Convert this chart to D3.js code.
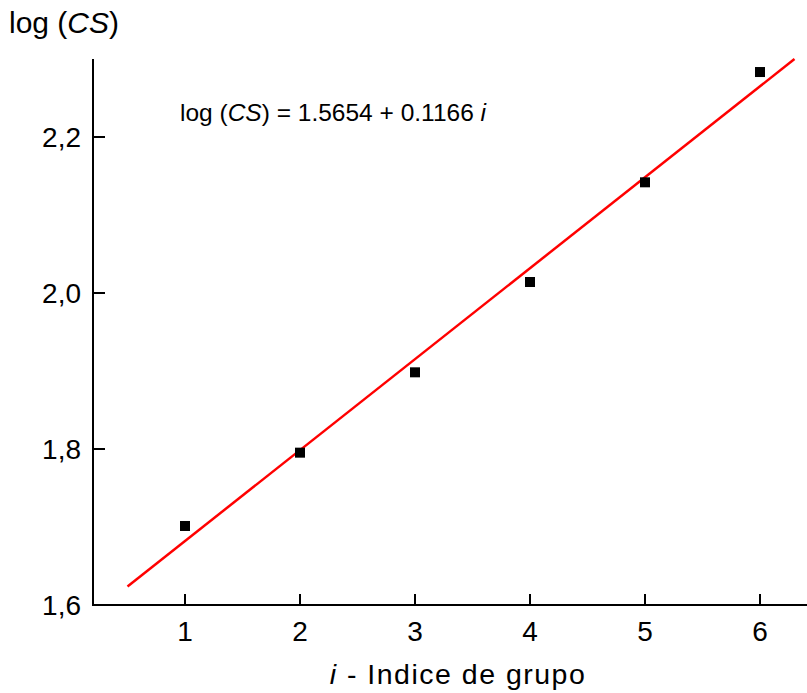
<!DOCTYPE html>
<html><head><meta charset="utf-8">
<script src="https://cdn.jsdelivr.net/npm/d3@7"></script>
<style>body{margin:0;background:#fff}svg{display:block;font-family:"Liberation Sans",Arial,sans-serif}</style>
</head><body><svg id="c" width="807" height="693"></svg>
<script>
const groupIndex = [1, 2, 3, 4, 5, 6];
const logCS = [1.7013, 1.7953, 1.8983, 2.0141, 2.1419, 2.2833];
const fitIntercept = 1.5654;
const fitSlope = 0.1166;
const fitRange = [0.5, 6.3];
const xTicks = [1, 2, 3, 4, 5, 6];
const yTicks = [1.6, 1.8, 2.0, 2.2];

const svg = d3.select("#c");
const x = d3.scaleLinear().domain([0.2, 6.5]).range([93, 93 + 6.3 * 115]);
const y = d3.scaleLinear().domain([1.6, 2.3]).range([605, 59]);

// axes
svg.append("line").attr("x1", 93).attr("x2", 93).attr("y1", y(2.3)).attr("y2", 605.5)
  .attr("stroke", "#000").attr("stroke-width", 2);
svg.append("line").attr("x1", 92).attr("x2", 807).attr("y1", 605).attr("y2", 605)
  .attr("stroke", "#000").attr("stroke-width", 2);

svg.selectAll(".xt").data(xTicks).enter().append("line")
  .attr("x1", d => x(d)).attr("x2", d => x(d)).attr("y1", 605).attr("y2", 594)
  .attr("stroke", "#000").attr("stroke-width", 2);
svg.selectAll(".xl").data(xTicks).enter().append("text")
  .attr("x", d => x(d)).attr("y", 641).attr("text-anchor", "middle")
  .attr("font-size", 28).text(d => d);

svg.selectAll(".yt").data(yTicks).enter().append("line")
  .attr("x1", 93).attr("x2", 105).attr("y1", d => y(d)).attr("y2", d => y(d))
  .attr("stroke", "#000").attr("stroke-width", 2);
svg.selectAll(".yl").data(yTicks).enter().append("text")
  .attr("x", 81).attr("y", d => y(d) + 10).attr("text-anchor", "end")
  .attr("font-size", 28).text(d => d3.format(".1f")(d).replace(".", ","));

// fit line
const fitPts = fitRange.map(i => [i, fitIntercept + fitSlope * i]);
svg.append("path").datum(fitPts)
  .attr("d", d3.line().x(d => x(d[0])).y(d => y(d[1])))
  .attr("stroke", "#f00").attr("stroke-width", 2.5).attr("fill", "none");

// points
svg.selectAll(".pt").data(groupIndex).enter().append("rect")
  .attr("x", (d, k) => x(d) - 5).attr("y", (d, k) => y(logCS[k]) - 5)
  .attr("width", 10).attr("height", 10).attr("fill", "#000");

// texts
const t1 = svg.append("text").attr("x", 9).attr("y", 33).attr("font-size", 30);
t1.append("tspan").text("log (");
t1.append("tspan").attr("font-style", "italic").text("CS");
t1.append("tspan").text(")");

const t2 = svg.append("text").attr("x", 180).attr("y", 121).attr("font-size", 24.5);
t2.append("tspan").text("log (");
t2.append("tspan").attr("font-style", "italic").text("CS");
t2.append("tspan").text(") = 1.5654 + 0.1166 ");
t2.append("tspan").attr("font-style", "italic").text("i");

const t3 = svg.append("text").attr("x", 458).attr("y", 684).attr("text-anchor", "middle")
  .attr("font-size", 28.5).attr("letter-spacing", 1.5);
t3.append("tspan").attr("font-style", "italic").text("i");
t3.append("tspan").text(" - Indice de grupo");
</script></body></html>
